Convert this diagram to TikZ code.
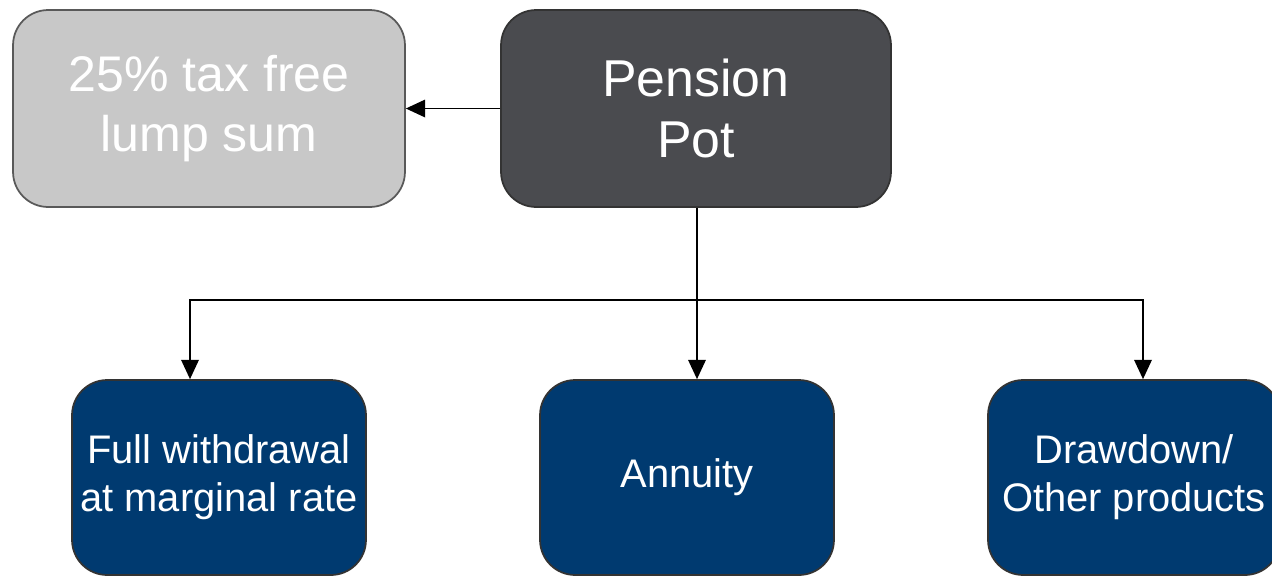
\documentclass[tikz,border=0pt]{standalone}
\usepackage{fontspec}
\setmainfont{Liberation Sans}
\usetikzlibrary{arrows.meta}
\definecolor{potgray}{HTML}{4A4B4F}
\definecolor{lumpgray}{HTML}{C8C8C8}
\definecolor{optionblue}{HTML}{003A70}
\tikzstyle{box}=[draw=black!80, line width=1pt, rounded corners=20pt, text=white, align=center, inner sep=0pt]
\tikzstyle{pot box}=[box, fill=potgray, minimum width=7.8cm, minimum height=3.94cm, font=\fontsize{29.5}{35}\selectfont]
\tikzstyle{lump box}=[box, draw=black!65, fill=lumpgray, minimum width=7.84cm, minimum height=3.94cm, font=\fontsize{28.5}{34}\selectfont]
\tikzstyle{option box}=[box, fill=optionblue, minimum width=5.88cm, minimum height=3.9cm, font=\fontsize{22.7}{27.2}\selectfont]
\tikzstyle{link}=[line width=0.9pt]

\begin{document}
\begin{tikzpicture}[>={Triangle[length=11pt,width=10pt]},x=0.02cm,y=-0.02cm]
    \useasboundingbox (0,0) rectangle (1272,576);

    % Top row
    \node[pot box] (pot) at (696,108.5) {Pension\\Pot};
    \node[lump box] (lump) at (209,108.5) {25\% tax free\\lump sum};

    % Options
    \node[option box] (full) at (219,477.5) {Full withdrawal\\at marginal rate};
    \node[option box] (annuity) at (687,477.5) {Annuity};
    \node[option box, minimum width=5.84cm] (drawdown) at (1134,477.5) {Drawdown/\\Other products};

    % Links
    \coordinate (split) at (697,300);
    \draw[link,->] (pot.west) -- (lump.east);
    \draw[link] (pot.south -| split) -- (split);
    \draw[link,->] (split) -| ([xshift=-0.58cm]full.north);
    \draw[link,->] (split) -- ([xshift=0.2cm]annuity.north);
    \draw[link,->] (split) -| ([xshift=0.18cm]drawdown.north);

\end{tikzpicture}
\end{document}
